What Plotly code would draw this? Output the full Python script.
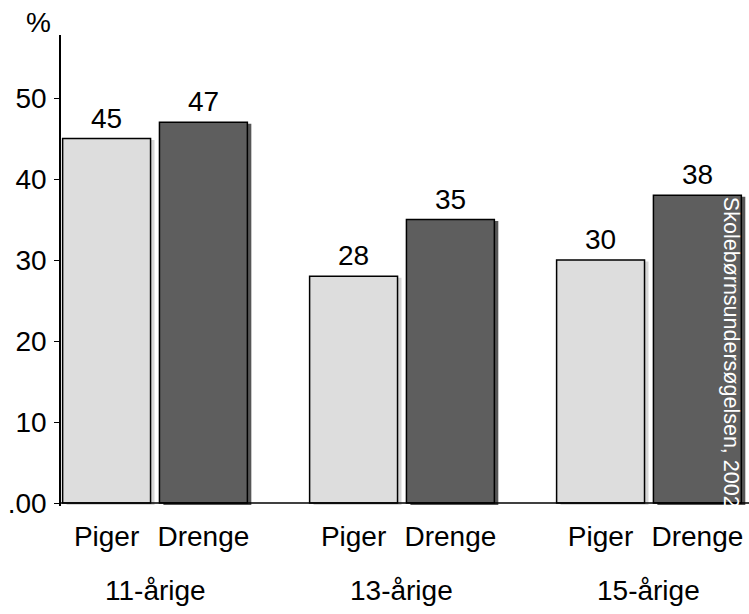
import plotly.graph_objects as go

# Andel (%) fordelt på alder og køn
groups = ["11-årige", "13-årige", "15-årige"]
sexes = ["Piger", "Drenge"]
piger = [45, 28, 30]
drenge = [47, 35, 38]
y_tick_vals = [0, 10, 20, 30, 40, 50]
y_tick_text = [".00", "10", "20", "30", "40", "50"]
source_note = "Skolebørnsundersøgelsen, 2002"

FONT = "Arial, Liberation Sans, sans-serif"
fills = {"Piger": "#dddddd", "Drenge": "#5e5e5e"}
shadows = {"Piger": "#d6d6d6", "Drenge": "#565656"}

half_step = 0.196     # distance from group centre to each bar centre
bar_w = 0.356         # bar width in category units
shadow_dx = 0.016     # shadow offset to the right
shadow_base = -0.25   # shadow reaches just below the baseline
shadow_drop = 0.18    # shadow top sits slightly below the bar top

series = {"Piger": piger, "Drenge": drenge}
offsets = {"Piger": -half_step, "Drenge": half_step}

fig = go.Figure()

# drop shadows behind the bars
for s in sexes:
    xs = [i + offsets[s] + shadow_dx for i in range(len(groups))]
    fig.add_trace(go.Bar(
        x=xs, y=[v - shadow_drop - shadow_base for v in series[s]],
        base=shadow_base, width=bar_w,
        marker=dict(color=shadows[s], line=dict(width=0)),
        hoverinfo="skip", showlegend=False,
    ))

# the bars themselves
for s in sexes:
    xs = [i + offsets[s] for i in range(len(groups))]
    fig.add_trace(go.Bar(
        x=xs, y=series[s], width=bar_w, name=s,
        marker=dict(color=fills[s], line=dict(color="black", width=1.5)),
        showlegend=False,
    ))

# value labels above each bar
for s in sexes:
    for i, v in enumerate(series[s]):
        fig.add_annotation(x=i + offsets[s], y=v, xref="x", yref="y",
                           text=str(v), showarrow=False, yanchor="bottom",
                           yshift=3,
                           font=dict(family=FONT, size=28, color="black"))

x_ticks = [i + offsets[s] for i in range(len(groups)) for s in sexes]
x_tick_text = [s for i in range(len(groups)) for s in sexes]

fig.update_layout(
    width=749, height=614,
    margin=dict(l=61, r=0, t=35, b=108),
    paper_bgcolor="white", plot_bgcolor="white",
    barmode="overlay",
    font=dict(family=FONT, size=28, color="black"),
    xaxis=dict(
        range=[-0.3806, 2.405], showgrid=False, zeroline=False,
        showline=False, tickmode="array", tickvals=x_ticks,
        ticktext=x_tick_text, ticks="", ticklabelstandoff=11,
        tickfont=dict(family=FONT, size=28, color="black"),
    ),
    yaxis=dict(
        range=[-0.37, 57.78], showgrid=False, zeroline=False,
        showline=True, linecolor="black", linewidth=1.5,
        tickmode="array", tickvals=y_tick_vals, ticktext=y_tick_text,
        ticks="outside", ticklen=5, tickcolor="black", tickwidth=1,
        ticklabelstandoff=2,
        tickfont=dict(family=FONT, size=28, color="black"),
    ),
)

# baseline across the full width
fig.add_shape(type="line", xref="paper", yref="y", x0=0, x1=1, y0=0, y1=0,
              line=dict(color="black", width=1.5), layer="above")

# age group labels under each pair of bars
for i, g in enumerate(groups):
    fig.add_annotation(x=i, y=-0.180, xref="x", yref="paper", text=g,
                       showarrow=False, yanchor="middle",
                       font=dict(family=FONT, size=28, color="black"))

fig.add_annotation(x=-0.032, y=1.0276, xref="paper", yref="paper", text="%",
                   showarrow=False, xanchor="center", yanchor="middle",
                   font=dict(family=FONT, size=28, color="black"))

fig.add_annotation(x=0.974, y=0.327, xref="paper", yref="paper",
                   text=source_note, textangle=90, showarrow=False,
                   xanchor="center", yanchor="middle",
                   font=dict(family=FONT, size=21.5, color="white"))

fig.write_html("out.html")
